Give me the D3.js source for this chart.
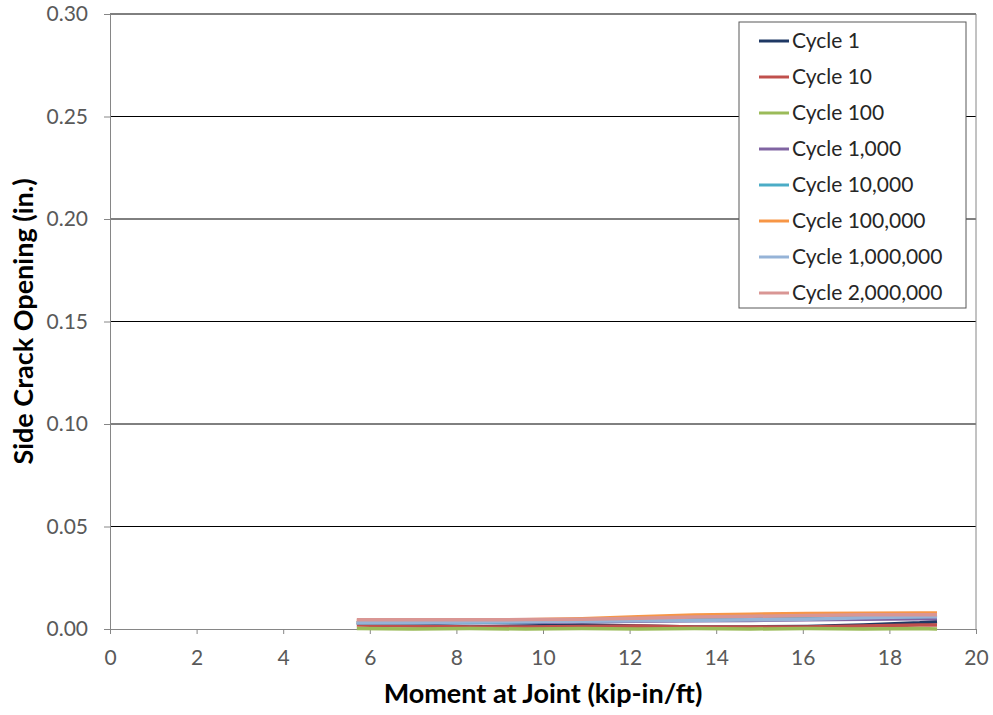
<!DOCTYPE html>
<html>
<head>
<meta charset="utf-8">
<script src="https://cdn.jsdelivr.net/npm/d3@7"></script>
<style>
  body { margin: 0; background: #fff; }
  svg { font-family: Lato, "Open Sans", sans-serif; }
</style>
</head>
<body>
<svg id="chart" width="993" height="715"></svg>
<script>
// moment values (kip-in/ft) shared by all cycles
var moments = [5.7, 7.0, 8.3, 9.6, 10.9, 12.2, 13.5, 14.8, 16.1, 17.4, 18.7, 19.1];

var seriesNames = ["Cycle 1", "Cycle 10", "Cycle 100", "Cycle 1,000", "Cycle 10,000",
    "Cycle 100,000", "Cycle 1,000,000", "Cycle 2,000,000"];
var seriesColors = ["#1f3864", "#c0504d", "#9bbb59", "#8064a2", "#4bacc6",
    "#f79646", "#95b3d7", "#d99694"];

var cycle1 = [0.003, 0.002, 0.001, 0.0015, 0.002, 0.0015, 0.001, 0.001, 0.0012, 0.002, 0.003, 0.0035];
var cycle10 = [0.002, 0.0015, 0.001, 0.001, 0.0012, 0.0015, 0.001, 0.001, 0.001, 0.0015, 0.002, 0.002];
var cycle100 = [0.0002, 0.0, 0.0002, 0.0, 0.0003, 0.0, 0.0002, 0.0, 0.0003, 0.0, 0.0003, 0.0];
var cycle1k = [0.003, 0.003, 0.003, 0.0032, 0.0035, 0.0038, 0.004, 0.0042, 0.0045, 0.0048, 0.005, 0.005];
var cycle10k = [0.003, 0.003, 0.0032, 0.0035, 0.004, 0.0045, 0.005, 0.0052, 0.0055, 0.0058, 0.006, 0.0065];
var cycle100k = [0.004, 0.004, 0.0042, 0.0045, 0.005, 0.006, 0.0068, 0.0072, 0.0076, 0.0077, 0.0078, 0.0078];
var cycle1m = [0.003, 0.0032, 0.0034, 0.0036, 0.0038, 0.004, 0.0042, 0.0045, 0.0048, 0.0055, 0.006, 0.006];
var cycle2m = [0.0045, 0.0045, 0.0045, 0.0046, 0.0048, 0.0052, 0.0058, 0.0062, 0.0066, 0.007, 0.007, 0.007];

var xTicks = [0, 2, 4, 6, 8, 10, 12, 14, 16, 18, 20];
var yTicks = [0, 0.05, 0.10, 0.15, 0.20, 0.25, 0.30];

var allValues = [cycle1, cycle10, cycle100, cycle1k, cycle10k, cycle100k, cycle1m, cycle2m];

var svg = d3.select("#chart");
var plotLeft = 110, plotRight = 976, plotTop = 14, plotBottom = 629;

var x = d3.scaleLinear().domain([0, 20]).range([plotLeft, plotRight]);
var y = d3.scaleLinear().domain([0, 0.30]).range([plotBottom, plotTop]);

// gridlines
svg.append("g")
    .selectAll("line")
    .data(yTicks.filter(d => d > 0))
    .enter()
    .append("line")
    .attr("x1", plotLeft)
    .attr("x2", plotRight)
    .attr("y1", d => y(d))
    .attr("y2", d => y(d))
    .attr("stroke", "#000")
    .attr("stroke-width", 1);

// right frame edge
svg.append("line")
    .attr("x1", plotRight).attr("x2", plotRight)
    .attr("y1", plotTop).attr("y2", plotBottom)
    .attr("stroke", "#868686").attr("stroke-width", 1);

var yAxis = svg.append("g")
    .attr("transform", "translate(" + plotLeft + ",0)")
    .call(d3.axisLeft(y).tickValues(yTicks).tickFormat(d3.format(".2f")).tickSize(6).tickPadding(16));

var xAxis = svg.append("g")
    .attr("transform", "translate(0," + plotBottom + ")")
    .call(d3.axisBottom(x).tickValues(xTicks).tickFormat(d3.format("d")).tickSize(5).tickPadding(16));

[yAxis, xAxis].forEach(function (ax) {
    ax.select(".domain").attr("stroke", "#868686");
    ax.selectAll(".tick line").attr("stroke", "#868686");
    ax.selectAll(".tick text")
        .attr("fill", "#595959")
        .style("font-size", "21px")
        .style("font-family", "Lato, 'Open Sans', sans-serif");
});

// series lines
var line = d3.line()
    .x((d, i) => x(moments[i]))
    .y(d => y(d));

svg.append("g")
    .selectAll("path")
    .data(allValues)
    .enter()
    .append("path")
    .attr("d", d => line(d))
    .attr("fill", "none")
    .attr("stroke", (d, i) => seriesColors[i])
    .attr("stroke-width", 3.5)
    .attr("stroke-linejoin", "round");

// axis titles
svg.append("text")
    .attr("x", 543)
    .attr("y", 703)
    .attr("text-anchor", "middle")
    .style("font-size", "27px")
    .style("font-weight", "bold")
    .text("Moment at Joint (kip-in/ft)");

svg.append("text")
    .attr("transform", "translate(33," + ((plotTop + plotBottom) / 2) + ") rotate(-90)")
    .attr("text-anchor", "middle")
    .style("font-size", "27px")
    .style("font-weight", "bold")
    .text("Side Crack Opening (in.)");

// legend
var legend = svg.append("g").attr("transform", "translate(739,22)");
legend.append("rect")
    .attr("width", 227)
    .attr("height", 286)
    .attr("fill", "#fff")
    .attr("stroke", "#595959")
    .attr("stroke-width", 1);

var items = legend.selectAll(".item")
    .data(seriesNames)
    .enter()
    .append("g")
    .classed("item", true)
    .attr("transform", (d, i) => "translate(0," + (19 + i * 36) + ")");

items.append("line")
    .attr("x1", 20).attr("x2", 50)
    .attr("stroke", (d, i) => seriesColors[i])
    .attr("stroke-width", 3);

items.append("text")
    .attr("x", 53)
    .attr("dy", "0.35em")
    .attr("fill", "#262626")
    .style("font-size", "21px")
    .text(d => d);
</script>
</body>
</html>
